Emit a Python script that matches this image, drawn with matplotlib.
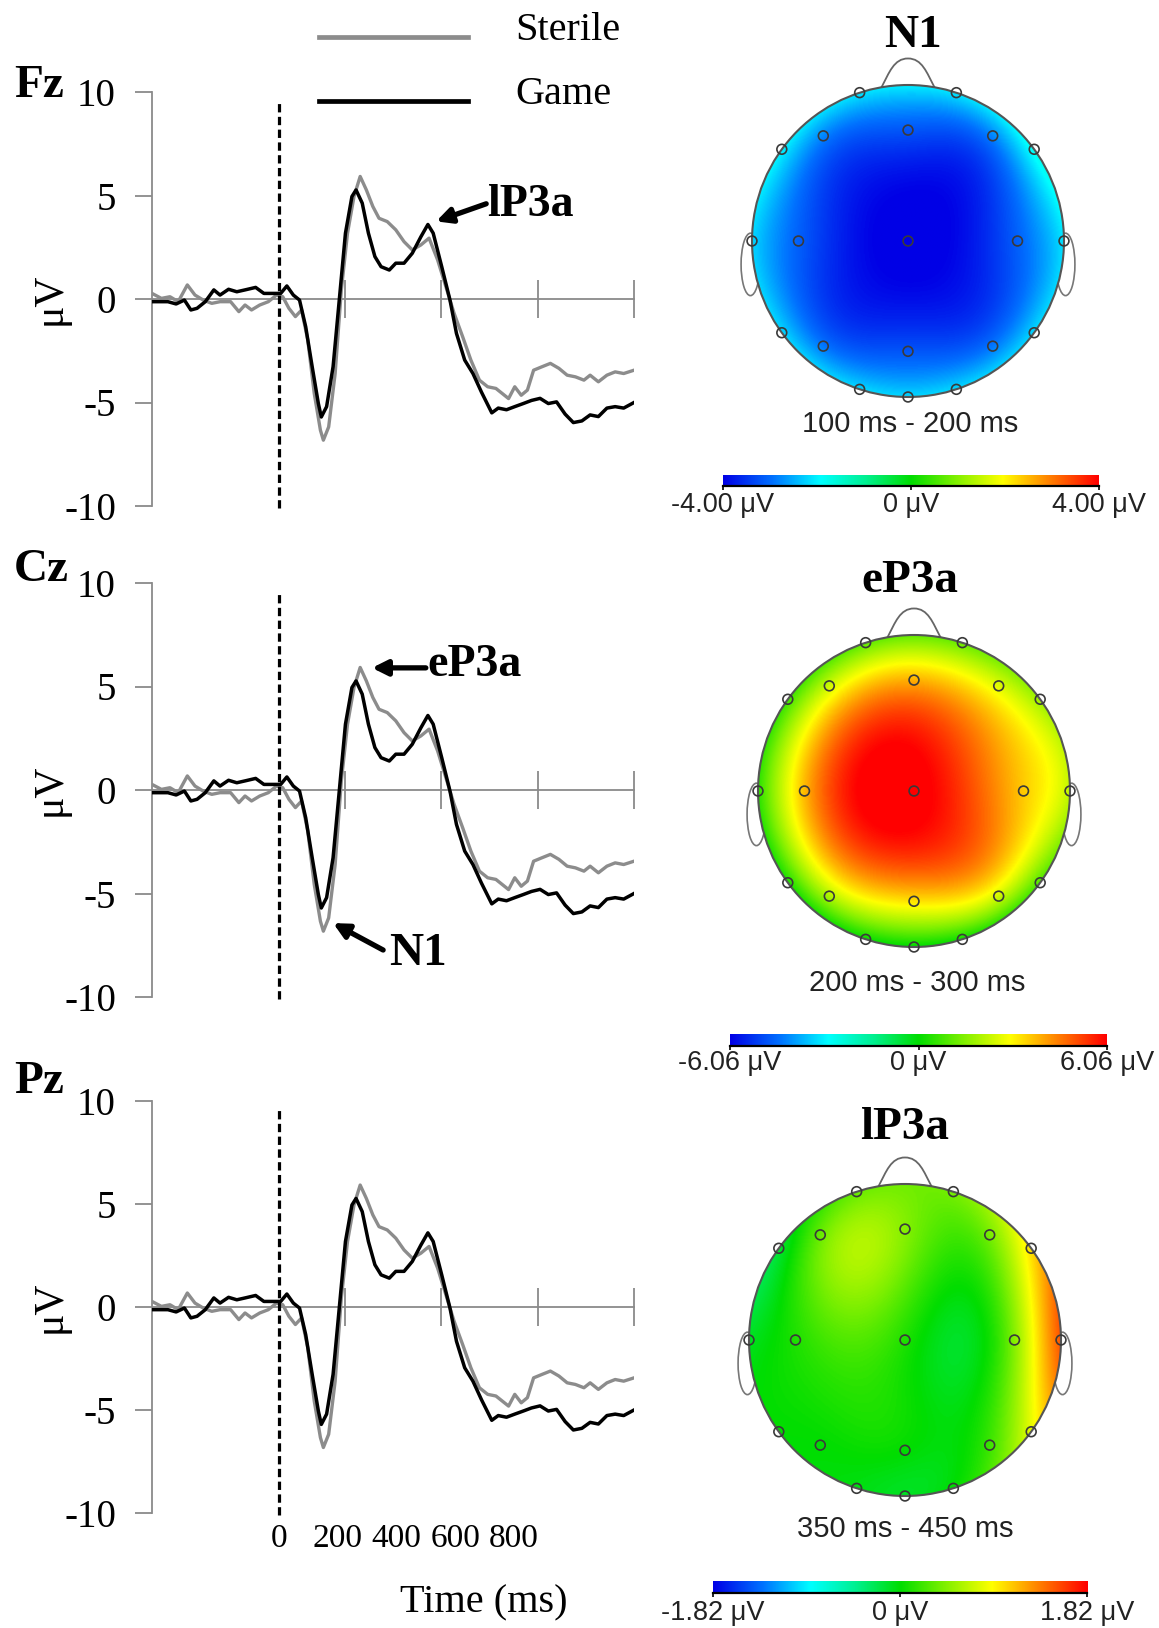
import numpy as np
import matplotlib
matplotlib.use("Agg")
import matplotlib.pyplot as plt
from matplotlib.colors import LinearSegmentedColormap
from matplotlib.patches import Circle, Ellipse, PathPatch
from matplotlib.path import Path
from matplotlib.lines import Line2D
from numpy.polynomial import legendre

plt.rcParams["font.family"] = ["Liberation Serif", "DejaVu Serif"]
SANS = ["Liberation Sans", "DejaVu Sans"]

# ERP waveforms (the three electrode panels show the same traces)
game_time = [-430, -376, -348, -320, -298, -277, -249, -220, -199, -170, -142, -114,
             -78, -50, -21, 7, 28, 50, 71, 92, 114, 135, 145, 163, 185, 206, 227,
             249, 263, 284, 305, 327, 348, 376, 398, 426, 454, 483, 507, 525, 554,
             582, 604, 632, 660, 689, 724, 746, 774, 802, 831, 859, 888, 916, 944,
             973, 1001, 1030, 1058, 1086, 1115, 1143, 1172, 1207]
game_uv = [-0.13, -0.13, -0.24, -0.05, -0.53, -0.45, -0.13, 0.44, 0.19, 0.47, 0.35, 0.44,
           0.56, 0.27, 0.27, 0.27, 0.63, 0.19, -0.05, -1.34, -3.27, -5.05, -5.7, -5.2,
           -3.27, -0.05, 3.18, 4.95, 5.27, 4.63, 3.18, 2.05, 1.56, 1.4, 1.73, 1.73,
           2.21, 3.0, 3.6, 3.18, 1.56, -0.05, -1.66, -2.95, -3.6, -4.5, -5.5, -5.27,
           -5.35, -5.2, -5.05, -4.9, -4.8, -5.05, -4.97, -5.56, -5.97, -5.89, -5.6,
           -5.68, -5.27, -5.2, -5.27, -5.0]

sterile_time = [-430, -398, -369, -341, -310, -284, -256, -227, -199, -163, -135, -114,
                -92, -64, -35, -7, 14, 35, 57, 78, 99, 121, 142, 152, 170, 192, 213,
                234, 256, 277, 298, 320, 341, 369, 398, 426, 454, 483, 511, 540, 568,
                596, 625, 653, 682, 710, 738, 767, 781, 802, 824, 845, 866, 895, 923,
                952, 980, 1008, 1037, 1058, 1086, 1115, 1143, 1172, 1207]
sterile_uv = [0.27, 0.03, 0.11, -0.13, 0.68, 0.19, -0.05, -0.21, -0.13, -0.13, -0.61, -0.29,
              -0.53, -0.29, -0.13, 0.19, 0.11, -0.45, -0.85, -0.53, -1.98, -4.56, -6.34,
              -6.82, -6.18, -3.6, 0.44, 3.18, 4.95, 5.92, 5.27, 4.47, 3.9, 3.74, 3.34,
              2.77, 2.37, 2.61, 2.94, 1.89, 0.6, -0.69, -1.82, -2.95, -3.92, -4.24,
              -4.32, -4.65, -4.81, -4.24, -4.65, -4.4, -3.44, -3.27, -3.11, -3.35,
              -3.68, -3.76, -3.92, -3.68, -4.0, -3.68, -3.52, -3.6, -3.44]

electrodes = ["Fp1", "Fp2", "F7", "F3", "Fz", "F4", "F8", "T3", "C3", "Cz", "C4", "T4",
              "T5", "P3", "Pz", "P4", "T6", "O1", "Oz", "O2"]
elec_x = [-0.31, 0.31, -0.809, -0.543, 0.0, 0.543, 0.809, -1.0, -0.702, 0.0, 0.702, 1.0,
          -0.809, -0.543, 0.0, 0.543, 0.809, -0.31, 0.0, 0.31]
elec_y = [0.951, 0.951, 0.588, 0.674, 0.711, 0.674, 0.588, 0.0, 0.0, 0.0, 0.0, 0.0,
          -0.588, -0.674, -0.707, -0.674, -0.588, -0.951, -1.0, -0.951]

n1_uv = [-2.1, -2.1, -2.0, -2.8, -3.2, -2.8, -1.8, -2.2, -3.1, -4.1, -3.1, -2.1,
         -2.2, -2.9, -3.2, -2.9, -2.2, -2.2, -2.2, -2.2]
ep3a_uv = [1.1, 1.2, 0.7, 2.4, 3.9, 2.6, 1.8, 0.5, 3.8, 6.3, 3.6, 2.2,
           0.3, 2.0, 3.3, 2.4, 0.9, 0.1, 0.0, 0.2]
lp3a_uv = [0.35, 0.4, -0.15, 0.35, 0.45, 0.4, 1.0, -0.1, 0.1, 0.1, 0.45, 1.5,
           0.0, 0.0, 0.0, 0.2, 0.8, -0.05, -0.1, 0.0]

topo_titles = ["N1", "eP3a", "lP3a"]
topo_windows = ["100 ms - 200 ms", "200 ms - 300 ms", "350 ms - 450 ms"]
topo_limits = [4.00, 6.06, 1.82]

W, H = 1159, 1628
fig = plt.figure(figsize=(W / 100, H / 100), dpi=100)


def px_axes(left, top, right, bottom):
    return fig.add_axes([left / W, 1 - bottom / H, (right - left) / W, (bottom - top) / H])


def fx(x):
    return x / W


def fy(y):
    return 1 - y / H


grey = "#8a8a8a"
xmin, xmax = -430, 1207

# ---- ERP panels ----
panels = [("Fz", 92, 506, 86), ("Cz", 583, 997, 570), ("Pz", 1101, 1513, 1082)]
erp_axes = []
for name, top, bottom, lab_y in panels:
    ax = px_axes(152, top, 634, bottom)
    ax.set_axisbelow(True)
    ax.patch.set_visible(False)
    ax.plot(sterile_time, sterile_uv, color="#8c8c8c", lw=2.4, zorder=3)
    ax.plot(game_time, game_uv, color="black", lw=2.5, zorder=4)
    ax.plot([0, 0], [-10.1, 9.6], color="black", lw=2.3, dashes=(2.6, 1.4), clip_on=False, zorder=5)
    ax.set_xlim(xmin, xmax)
    ax.set_ylim(-10, 10)
    for s in ["top", "right"]:
        ax.spines[s].set_visible(False)
    ax.spines["left"].set_color(grey)
    ax.spines["left"].set_linewidth(1.3)
    ax.spines["bottom"].set_position(("data", 0))
    ax.spines["bottom"].set_color(grey)
    ax.spines["bottom"].set_linewidth(1.3)
    ax.set_yticks([-10, -5, 0, 5, 10])
    ax.set_yticklabels(["-10", "-5", "0", "5", "10"])
    ax.tick_params(axis="y", direction="out", length=12, width=1.3, color=grey,
                   labelsize=28, pad=14)
    ax.set_xticks(np.linspace(xmin, xmax, 6)[2:])
    ax.set_xticklabels([])
    ax.tick_params(axis="x", direction="inout", length=28, width=1.3, color=grey)
    fig.text(fx(14), fy(lab_y), name, fontsize=34, fontweight="bold", ha="left", va="center")
    zero_y = (top + bottom) / 2
    fig.text(fx(50), fy(zero_y), "μV", fontsize=30, rotation=90, ha="center", va="center")
    erp_axes.append(ax)

ax_fz, ax_cz, ax_pz = erp_axes
arrow = dict(arrowstyle="-|>,head_length=0.9,head_width=0.45", lw=3.8, color="black",
             shrinkA=0, shrinkB=0)
ax_fz.annotate("", xy=(535, 3.75), xytext=(705, 4.6), arrowprops=arrow)
ax_fz.text(708, 4.55, "lP3a", fontsize=33, fontweight="bold", ha="left", va="center")
ax_cz.annotate("", xy=(317, 5.9), xytext=(500, 5.9), arrowprops=arrow)
ax_cz.text(506, 6.05, "eP3a", fontsize=33, fontweight="bold", ha="left", va="center")
ax_cz.annotate("", xy=(185, -6.43), xytext=(355, -7.73), arrowprops=arrow)
ax_cz.text(376, -7.9, "N1", fontsize=34, fontweight="bold", ha="left", va="center")

for t in [0, 200, 400, 600, 800]:
    ax_pz.text(t, -11.25, str(t), fontsize=24, ha="center", va="center", clip_on=False)
fig.text(fx(484), fy(1603), "Time (ms)", fontsize=29, ha="center", va="center")

# legend
fig.add_artist(Line2D([fx(319), fx(468)], [fy(37), fy(37)], color="#8c8c8c", lw=3.4))
fig.add_artist(Line2D([fx(319), fx(468)], [fy(101), fy(101)], color="black", lw=3.4))
fig.text(fx(515), fy(31), "Sterile", fontsize=29, ha="left", va="center")
fig.text(fx(515), fy(94), "Game", fontsize=29, ha="left", va="center")

# ---- topographic maps ----
topo_cmap = LinearSegmentedColormap.from_list("topo", [
    (0.0, "#0000e6"), (0.13, "#0070ff"), (0.26, "#00ffff"), (0.38, "#00f090"),
    (0.5, "#00dd00"), (0.62, "#80f000"), (0.745, "#ffff00"), (0.87, "#ff8000"),
    (1.0, "#ff0000")])


def to_sphere(x, y):
    th = np.hypot(x, y) * np.pi / 2
    ph = np.arctan2(y, x)
    return np.stack([np.sin(th) * np.cos(ph), np.sin(th) * np.sin(ph), np.cos(th)], -1)


# spherical spline (order 3)
nn = np.arange(1, 31)
coef = np.concatenate([[0], (2 * nn + 1) / (nn * (nn + 1)) ** 3 / (4 * np.pi)])


def g_sph(c):
    return legendre.legval(np.clip(c, -1, 1), coef)


elec_s = to_sphere(np.array(elec_x), np.array(elec_y))


def interp_map(vals, n=301):
    k = len(elec_s)
    A = np.ones((k + 1, k + 1))
    A[:k, :k] = g_sph(elec_s @ elec_s.T)
    A[k, k] = 0
    sol = np.linalg.solve(A, np.concatenate([np.asarray(vals, float), [0]]))
    g = np.linspace(-1, 1, n)
    gx, gy = np.meshgrid(g, g)
    gs = to_sphere(gx, gy)
    return g_sph(gs @ elec_s.T) @ sol[:k] + sol[k]


R = 156
heads = [(908, 241), (914, 791), (905, 1340)]
title_pos = [(913, 36), (910, 581), (905, 1128)]
window_pos = [(910, 424), (917, 983), (905, 1529)]
cbar_box = [(723, 475, 1099, 486), (730, 1034, 1107, 1046), (713, 1581, 1087, 1593)]
cbar_lab_y = [505, 1063, 1613]
maps = [n1_uv, ep3a_uv, lp3a_uv]

for i in range(3):
    cx, cy = heads[i]
    vmax = topo_limits[i]
    ax = px_axes(cx - 1.3 * R, cy - 1.3 * R, cx + 1.3 * R, cy + 1.3 * R)
    ax.set_xlim(-1.3, 1.3)
    ax.set_ylim(-1.3, 1.3)
    ax.axis("off")
    z = interp_map(maps[i])
    im = ax.imshow(z, extent=(-1, 1, -1, 1), origin="lower", cmap=topo_cmap,
                   vmin=-vmax, vmax=vmax, interpolation="bilinear", zorder=2)
    im.set_clip_path(Circle((0, 0), 1, transform=ax.transData))
    ax.add_patch(Circle((0, 0), 1, fill=False, ec="#555555", lw=1.5, zorder=3))
    nose = Path([(-0.17, 0.985), (-0.12, 1.08), (-0.09, 1.17), (0, 1.17),
                 (0.09, 1.17), (0.12, 1.08), (0.17, 0.985)],
                [Path.MOVETO, Path.CURVE4, Path.CURVE4, Path.CURVE4,
                 Path.CURVE4, Path.CURVE4, Path.CURVE4])
    ax.add_patch(PathPatch(nose, fill=False, ec="#666666", lw=1.3, zorder=1))
    for side in (-1, 1):
        ax.add_patch(Ellipse((side * 1.01, -0.15), 0.12, 0.4, fill=False,
                             ec="#777777", lw=1.2, zorder=1))
    ax.scatter(elec_x, elec_y, s=50, facecolors="none", edgecolors="#3a3a3a",
               linewidths=1.2, zorder=4)
    tx, ty = title_pos[i]
    fig.text(fx(tx), fy(ty), topo_titles[i], fontsize=34, fontweight="bold",
             ha="center", va="center")
    wx, wy = window_pos[i]
    fig.text(fx(wx), fy(wy), topo_windows[i], fontsize=21, family=SANS,
             ha="center", va="center", color="#222222")

    l, t, r, b = cbar_box[i]
    cax = px_axes(l, t, r, b)
    cax.imshow(np.linspace(-vmax, vmax, 256)[None, :], aspect="auto", cmap=topo_cmap,
               extent=(-vmax, vmax, 0, 1))
    for s in ["top", "left", "right"]:
        cax.spines[s].set_visible(False)
    cax.spines["bottom"].set_linewidth(1.6)
    cax.set_yticks([])
    cax.set_xticks([-vmax, 0, vmax])
    cax.set_xticklabels([])
    cax.tick_params(axis="x", direction="out", length=3, width=1.2)
    labels = ["-%.2f μV" % vmax, "0 μV", "%.2f μV" % vmax]
    for xpos, lab in zip([l, (l + r) / 2, r], labels):
        fig.text(fx(xpos), fy(cbar_lab_y[i]), lab, fontsize=19.5, family=SANS,
                 ha="center", va="center", color="#222222")

fig.savefig("out.png", dpi=100)
